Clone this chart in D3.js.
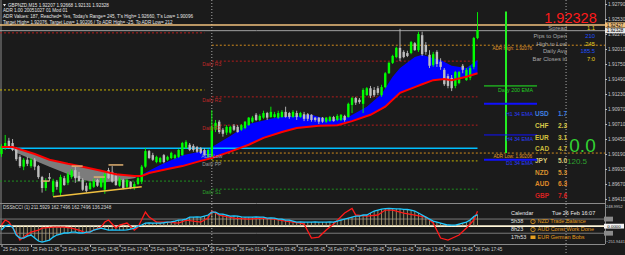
<!DOCTYPE html>
<html>
<head>
<meta charset="utf-8">
<title>GBPNZD,M15</title>
<script src="https://d3js.org/d3.v7.min.js"></script>
<style>
  body { margin: 0; background: #1b1b1b; }
  #chart { display: block; background: #1b1b1b; }
  text { font-family: "Liberation Sans", Arial, sans-serif; }
</style>
</head>
<body>
<svg id="chart" width="625" height="255"></svg>
<script>
// ---- data ----
// one row per M15 bar, 25 Feb 09:45 .. 26 Feb 18:00 : [open, high, low, close]
const candles = [
  [1.9019,1.9036,1.9014,1.9033],[1.9029,1.9052,1.9026,1.9038],[1.9042,1.9047,1.9028,1.9031],[1.9038,1.9045,1.9024,1.9026],
  [1.9028,1.9031,1.9007,1.9010],[1.9014,1.9017,1.8995,1.8998],[1.8997,1.9012,1.8991,1.9009],[1.9009,1.9014,1.8998,1.9002],
  [1.8998,1.9012,1.8995,1.9009],[1.9009,1.9012,1.8991,1.8997],[1.8998,1.9000,1.8976,1.8979],[1.8979,1.8981,1.8952,1.8960],
  [1.8960,1.8977,1.8955,1.8972],[1.8979,1.8986,1.8972,1.8976],[1.8953,1.8976,1.8946,1.8972],[1.8971,1.8974,1.8957,1.8962],
  [1.8952,1.8983,1.8946,1.8979],[1.8977,1.8981,1.8964,1.8965],[1.8969,1.8988,1.8965,1.8984],[1.8979,1.8993,1.8976,1.8990],
  [1.8991,1.8997,1.8969,1.8977],[1.8981,1.8988,1.8971,1.8972],[1.8974,1.8977,1.8955,1.8957],[1.8964,1.8969,1.8952,1.8955],
  [1.8958,1.8972,1.8957,1.8969],[1.8962,1.8976,1.8960,1.8972],[1.8974,1.8976,1.8962,1.8964],[1.8962,1.8981,1.8960,1.8977],
  [1.8957,1.8988,1.8950,1.8984],[1.8991,1.8995,1.8976,1.8977],[1.8988,1.8998,1.8969,1.8971],[1.8981,1.8986,1.8964,1.8965],
  [1.8964,1.8979,1.8962,1.8976],[1.8974,1.8976,1.8958,1.8960],[1.8962,1.8976,1.8960,1.8974],[1.8971,1.8972,1.8958,1.8960],
  [1.8960,1.8971,1.8957,1.8967],[1.8967,1.8981,1.8965,1.8977],[1.8971,1.9000,1.8967,1.8997],[1.8997,1.9029,1.8995,1.9024],
  [1.9024,1.9026,1.9010,1.9012],[1.9017,1.9021,1.9007,1.9009],[1.9005,1.9016,1.9003,1.9014],[1.9005,1.9014,1.9003,1.9012],
  [1.9017,1.9019,1.9003,1.9005],[1.9009,1.9016,1.9007,1.9014],[1.9012,1.9023,1.9010,1.9021],[1.9012,1.9019,1.9010,1.9017],
  [1.9014,1.9028,1.9012,1.9026],[1.9017,1.9040,1.9016,1.9038],[1.9029,1.9043,1.9028,1.9040],[1.9035,1.9038,1.9024,1.9026],
  [1.9033,1.9036,1.9023,1.9026],[1.9031,1.9033,1.9021,1.9023],[1.9029,1.9031,1.9019,1.9021],[1.9026,1.9029,1.9016,1.9017],
  [1.9014,1.9028,1.9012,1.9026],[1.9014,1.9095,1.9009,1.9066],[1.9061,1.9078,1.9057,1.9073],[1.9075,1.9078,1.9054,1.9057],
  [1.9061,1.9064,1.9049,1.9054],[1.9056,1.9069,1.9052,1.9066],[1.9056,1.9068,1.9054,1.9066],[1.9068,1.9071,1.9059,1.9061],
  [1.9066,1.9069,1.9056,1.9057],[1.9061,1.9071,1.9059,1.9069],[1.9064,1.9076,1.9062,1.9075],[1.9069,1.9083,1.9068,1.9082],
  [1.9075,1.9085,1.9073,1.9082],[1.9087,1.9090,1.9076,1.9078],[1.9078,1.9088,1.9076,1.9085],[1.9082,1.9094,1.9080,1.9090],
  [1.9090,1.9092,1.9078,1.9082],[1.9083,1.9101,1.9082,1.9092],[1.9083,1.9092,1.9082,1.9088],[1.9082,1.9094,1.9080,1.9090],
  [1.9083,1.9095,1.9082,1.9092],[1.9092,1.9101,1.9082,1.9083],[1.9090,1.9092,1.9080,1.9083],[1.9083,1.9095,1.9082,1.9092],
  [1.9090,1.9094,1.9078,1.9083],[1.9083,1.9092,1.9082,1.9090],[1.9088,1.9092,1.9076,1.9080],[1.9088,1.9090,1.9076,1.9080],
  [1.9087,1.9088,1.9075,1.9078],[1.9082,1.9083,1.9075,1.9078],[1.9082,1.9083,1.9071,1.9075],[1.9082,1.9083,1.9073,1.9075],
  [1.9075,1.9083,1.9073,1.9082],[1.9076,1.9085,1.9075,1.9083],[1.9083,1.9085,1.9075,1.9076],[1.9078,1.9088,1.9076,1.9085],
  [1.9078,1.9088,1.9076,1.9087],[1.9085,1.9087,1.9075,1.9078],[1.9083,1.9108,1.9082,1.9106],[1.9104,1.9118,1.9090,1.9116],
  [1.9116,1.9118,1.9104,1.9108],[1.9113,1.9116,1.9106,1.9109],[1.9106,1.9133,1.9090,1.9130],[1.9121,1.9135,1.9120,1.9133],
  [1.9133,1.9137,1.9116,1.9120],[1.9130,1.9135,1.9118,1.9121],[1.9133,1.9137,1.9121,1.9125],[1.9121,1.9139,1.9118,1.9135],
  [1.9135,1.9161,1.9133,1.9159],[1.9159,1.9179,1.9158,1.9177],[1.9177,1.9191,1.9175,1.9189],[1.9187,1.9205,1.9185,1.9203],
  [1.9203,1.9236,1.9180,1.9185],[1.9196,1.9199,1.9185,1.9187],[1.9194,1.9198,1.9187,1.9189],[1.9194,1.9215,1.9192,1.9213],
  [1.9211,1.9213,1.9198,1.9199],[1.9199,1.9231,1.9196,1.9227],[1.9225,1.9231,1.9189,1.9192],[1.9208,1.9213,1.9191,1.9196],
  [1.9191,1.9199,1.9168,1.9172],[1.9173,1.9196,1.9170,1.9192],[1.9196,1.9199,1.9170,1.9175],[1.9179,1.9185,1.9165,1.9170],
  [1.9165,1.9168,1.9137,1.9140],[1.9154,1.9158,1.9133,1.9137],[1.9151,1.9156,1.9128,1.9133],[1.9137,1.9163,1.9133,1.9161],
  [1.9142,1.9163,1.9140,1.9161],[1.9172,1.9175,1.9159,1.9165],[1.9147,1.9168,1.9146,1.9165],[1.9151,1.9172,1.9147,1.9168],
  [1.9170,1.9222,1.9166,1.9220],[1.9220,1.9265,1.9218,1.9234]
];

const timeLabels = ["25 Feb 2019","25 Feb 11:45","25 Feb 13:45","25 Feb 15:45","25 Feb 17:45","25 Feb 19:45",
  "25 Feb 21:45","25 Feb 23:45","26 Feb 01:45","26 Feb 03:45","26 Feb 05:45","26 Feb 07:45","26 Feb 09:45",
  "26 Feb 11:45","26 Feb 13:45","26 Feb 15:45","26 Feb 17:45"];
const labelBars = [0,8,16,24,32,40,48,56,64,72,80,88,96,104,112,120,128];
const daySeparators = [57, 153];      // 26 Feb 00:00, 27 Feb 00:00

const priceTicks = [1.92790,1.92530,1.92270,1.92010,1.91750,1.91490,1.91230,1.90970,1.90710,
  1.90450,1.90190,1.89930,1.89670,1.89410];

// moving averages, [bar, price]
const slowMA = [[0,1.9031],[3,1.9031],[9,1.9019],[13,1.9009],[18,1.9002],[22,1.8997],[27,1.8990],[31,1.8984],
  [36,1.8981],[38,1.8981],[40,1.8986],[45,1.8993],[49,1.8998],[54,1.9007],[57,1.9012],[62,1.9023],[67,1.9035],
  [71,1.9047],[76,1.9057],[80,1.9064],[86,1.9068],[91,1.9069],[95,1.9076],[100,1.9087],[104,1.9101],[108,1.9125],
  [112,1.9135],[114,1.9140],[117,1.9147],[120,1.9149],[122,1.9147],[126,1.9153],[129,1.9159]];
const fastMA = [[0,1.9031],[3,1.9029],[4,1.9021],[13,1.8997],[22,1.8974],[27,1.8969],[31,1.8972],[36,1.8977],
  [38,1.8983],[40,1.8990],[43,1.9000],[49,1.9017],[56,1.9026],[57,1.9031],[62,1.9050],[67,1.9071],[75,1.9083],
  [84,1.9087],[89,1.9078],[94,1.9083],[99,1.9101],[103,1.9123],[106,1.9153],[108,1.9168],[112,1.9187],[114,1.9191],
  [117,1.9185],[119,1.9182],[122,1.9172],[126,1.9168],[129,1.9182]];

// levels
const prevDayLevels = [1.9229, 1.9130, 1.8972];
const pivotNames = ["Daily R3","Daily R2","Daily R1","Daily PP","Daily S1"];
const pivotPrices = [1.9180, 1.9118, 1.9069, 1.9007, 1.8958];
const adrHigh = 1.92076, adrLow = 1.90206, todayHigh = 1.92660;
const prevClose = 1.9029, alertPrice = 1.92427, bid = 1.92328;
const tanMarks = [[11,13,1.8972],[19,22,1.8998],[25,28,1.8979],[29,33,1.9000]];
const trendLine = [[14,1.8945],[38,1.8962]];

const emaNames = ["Daily 200 EMA","H1 34 EMA","H4 34 EMA","D1 34 EMA"];
const emaPrices = [1.9137, 1.9106, 1.9052, 1.9009];

const currencies = ["USD","CHF","EUR","CAD","JPY","NZD","AUD","GBP"];
const strength = [1.7, 2.3, 3.1, 4.7, 5.0, 5.3, 6.3, 7.6];

const infoNames = ["Spread","Pips to Open","High to Low","Daily Avg","Bar Closes in"];
const infoValues = ["1.1","210","245","185.5","7:0"];

const calTimes = ["5h38","8h23","17h53"];
const calEvents = ["NZD Trade Balance","AUD Const Work Done","EUR German Bobs"];

const header = ["GBPNZD,M15  1.92207 1.92668 1.92131 1.92328",
  "ADR 1.00 20051027 01 Mod 01",
  "ADR Values: 187, Reached= Yes, Today's Range= 245, T's High= 1.92660, T's Low= 1.90096",
  "Target High= 1.92076, Target Low= 1.90206 / To ADR High= -25, To ADR Low= 212"];

// oscillator (one value per bar) and its signal line [bar, value]
const oscMain = [-55,1,16,-13,-125,-168,-168,-140,-125,-168,-210,-224,-210,-196,-154,-125,-111,-97,-97,-83,
  -83,-97,-97,-83,-83,-55,-41,-27,-41,-55,-52,-55,-57,-55,-52,-41,-27,1,16,44,
  46,44,42,44,48,58,60,72,86,88,100,126,128,130,128,142,157,199,199,171,
  171,157,142,144,142,130,128,126,128,130,128,126,114,116,114,100,100,86,86,72,
  58,60,58,56,58,60,58,56,58,60,58,72,86,100,114,128,142,142,157,157,
  185,213,227,240,246,249,248,245,244,238,235,227,213,185,157,128,100,72,58,44,
  30,16,14,15,30,44,58,86,136,163];
const oscSignal = [[0,16],[1,86],[2,58],[4,-97],[5,-196],[6,-154],[8,-83],[10,-55],[11,-27],[14,-13],[17,-13],
  [19,-27],[21,-55],[23,-97],[25,-55],[27,-13],[28,58],[29,86],[31,-27],[32,16],[34,44],[36,-55],[37,-13],
  [39,199],[40,128],[42,58],[45,58],[48,44],[50,86],[54,58],[56,114],[57,213],[59,157],[63,114],[67,100],
  [70,114],[74,100],[77,72],[81,44],[82,30],[84,-168],[86,-154],[88,-55],[90,30],[93,185],[95,249],[96,157],
  [99,142],[102,157],[104,227],[106,227],[109,185],[112,157],[115,128],[117,44],[119,-168],[121,-196],
  [124,-125],[126,-27],[128,86],[129,211]];
const oscLevels = [100, 0, -100];
const oscTicks = [248.9952, -251.9441];

// ---- layout ----
const plotRight = 605, mainBottom = 203, subTop = 204, subBottom = 244;
const svg = d3.select("#chart");

const x = d3.scaleLinear([0, candles.length - 1], [1.5, 477.5]);
const y = d3.scaleLinear([1.8934, 1.9286], [mainBottom, 0]);
const oy = d3.scaleLinear([-251.9441, 248.9952], [subBottom, 208.5]);

function hline(g, price, x1, x2, color, dash, w) {
  g.append("line").attr("x1", x1).attr("x2", x2).attr("y1", y(price)).attr("y2", y(price))
    .attr("stroke", color).attr("stroke-width", w || 1).attr("stroke-dasharray", dash || null);
}
function label(g, txt, px, py, size, color, anchor, weight) {
  return g.append("text").attr("x", px).attr("y", py).attr("dy", "0.35em")
    .attr("font-size", size).attr("fill", color).attr("text-anchor", anchor || "start")
    .attr("font-weight", weight || "normal").text(txt);
}

// frames
const frame = svg.append("g").attr("stroke", "#8a8a8a");
frame.append("line").attr("x1", 1).attr("x2", 1).attr("y1", 0).attr("y2", subBottom);
frame.append("line").attr("x1", plotRight + 0.5).attr("x2", plotRight + 0.5).attr("y1", 0).attr("y2", subBottom);
frame.append("line").attr("x1", 0).attr("x2", plotRight).attr("y1", mainBottom + 0.5).attr("y2", mainBottom + 0.5);
frame.append("line").attr("x1", 0).attr("x2", plotRight).attr("y1", subBottom + 0.5).attr("y2", subBottom + 0.5);

// day separators
svg.selectAll("line.sep").data(daySeparators).join("line").attr("class", "sep")
  .attr("x1", d => x(d)).attr("x2", d => x(d)).attr("y1", 0).attr("y2", 253)
  .attr("stroke", "#a8a8a8").attr("stroke-dasharray", "1,2");

// pivot levels
const lv = svg.append("g");
const prevColors = ["#b41c1c", "#c8b400", "#1f8f1f"];
prevDayLevels.forEach((p, i) => hline(lv, p, x(0) - 1.5, x(55), prevColors[i], "2,2"));
const pivColors = ["#b41c1c", "#b41c1c", "#b41c1c", "#c8b400", "#1f8f1f"];
pivotPrices.forEach((p, i) => hline(lv, p, x(57), x(129), pivColors[i], "2,2"));
hline(lv, adrHigh, x(57), plotRight, "#d08a1c", "2,2");
hline(lv, adrLow, x(57), plotRight, "#d08a1c", "2,2");

// MA band: grey while fast is under slow, blue once it crosses above
const maLine = d3.line().x(d => x(d[0])).y(d => y(d[1]));
const inRange = (lo, hi) => d => d[0] >= lo && d[0] <= hi;
function band(lo, hi) {
  return maLine(fastMA.filter(inRange(lo, hi)).concat(slowMA.filter(inRange(lo, hi)).reverse())) + "Z";
}
svg.append("path").attr("d", band(3, 38)).attr("fill", "#7c7c7c");
svg.append("path").attr("d", band(38, 129)).attr("fill", "#0000ff");

hline(svg, prevClose, x(0) - 1.5, x(129), "#00bfff", null, 1.5);
hline(svg, alertPrice, 0, plotRight, "#f2c27e", null, 1.5);
hline(svg, bid, 0, plotRight, "#a0a0a0", null, 1);

// candles
const bull = "#00ff00", bear = "#bdbdbd";
const bars = svg.append("g").selectAll("g").data(candles).join("g");
bars.append("line")
  .attr("x1", (d, i) => x(i)).attr("x2", (d, i) => x(i))
  .attr("y1", d => y(d[1])).attr("y2", d => y(d[2]))
  .attr("stroke", d => d[3] >= d[0] ? bull : bear).attr("stroke-width", 0.9);
bars.append("rect")
  .attr("x", (d, i) => x(i) - 1.2).attr("width", 2.4)
  .attr("y", d => y(Math.max(d[0], d[3])))
  .attr("height", d => Math.max(1, Math.abs(y(d[0]) - y(d[3]))))
  .attr("fill", d => d[3] >= d[0] ? bull : bear);

svg.append("path").attr("d", maLine(slowMA)).attr("fill", "none").attr("stroke", "#ff0000").attr("stroke-width", 2);

// small marks under the first session
svg.append("g").selectAll("line").data(tanMarks).join("line")
  .attr("x1", d => x(d[0])).attr("x2", d => x(d[1])).attr("y1", d => y(d[2])).attr("y2", d => y(d[2]))
  .attr("stroke", "#e0b070").attr("stroke-width", 1.5);
svg.append("path").attr("d", maLine(trendLine)).attr("stroke", "#f0c040").attr("stroke-width", 1.5).attr("fill", "none");

// level labels
const tl = svg.append("g");
pivotNames.forEach((n, i) => label(tl, n, x(57), y(pivotPrices[i]) + 3.5, 5,
  i < 3 ? "#c02828" : (i == 3 ? "#9a9a9a" : "#2aa02a"), "middle"));
label(tl, "ADR Low", x(57), y(adrLow) + 3.5, 5, "#8ca0c8", "middle");
label(tl, "ADR High: " + adrHigh.toFixed(5), 532, y(adrHigh) + 3, 4.6, "#e09a2a", "end");
label(tl, "ADR Low: " + adrLow.toFixed(5), 532, y(adrLow) + 3, 4.6, "#e09a2a", "end");

// right hand EMA markers
const em = svg.append("g");
em.append("line").attr("x1", 506).attr("x2", 506).attr("y1", y(todayHigh)).attr("y2", y(adrLow))
  .attr("stroke", "#22ee22").attr("stroke-width", 2);
const emaColors = ["#22ee22", "#1010ff", "#1010ff", "#1010ff"];
const emaWidths = [1, 2, 1, 2];
const emaLabelOffset = [4, 10, 4, 3];
emaPrices.forEach((p, i) => {
  hline(em, p, 484, 537, emaColors[i], null, emaWidths[i]);
  label(em, emaNames[i], 533, y(p) + emaLabelOffset[i], 5.3, i == 0 ? "#22cc22" : "#2a3cff", "end");
});

// currency strength
const cs = svg.append("g");
const csColors = ["#3f7fe0", "#d8c848", "#d4c23e", "#c8b83a", "#d8c878", "#d8922e", "#e08a28", "#d82020"];
currencies.forEach((c, i) => {
  label(cs, c, 535, 114 + i * 11.7, 6.5, csColors[i], "start", "bold");
  label(cs, strength[i].toFixed(1), 558, 114 + i * 11.7, 6.5, csColors[i], "start", "bold");
});
label(cs, "0.0", 582.5, 145, 19, "#32d232", "middle");
label(cs, "120.5", 567, 161, 8, "#2ea02e", "start");

// info box, top right
const ib = svg.append("g");
label(ib, bid.toFixed(5), 570.5, 17.5, 14.5, "#ff1a1a", "middle");
const infoColors = ["#e8d020", "#2050ff", "#e8d020", "#2050ff", "#e8d020"];
infoNames.forEach((n, i) => {
  label(ib, n, 567, 28 + i * 7.75, 5.8, "#a8a8a8", "end");
  label(ib, infoValues[i], 595, 28 + i * 7.75, 5.8, infoColors[i], "end");
});

// header text
const hd = svg.append("g");
hd.append("path").attr("d", "M3,4 L6,4 L4.5,6.5 Z").attr("fill", "#e6e6e6");
header.forEach((h, i) => label(hd, h, i == 0 ? 8 : 3, [5, 10.5, 16, 22][i], 4.6, "#e6e6e6"));

// price axis
const yAxis = d3.axisRight(y).tickValues(priceTicks).tickFormat(d3.format(".5f")).tickSize(2).tickPadding(1);
svg.append("g").attr("transform", `translate(${plotRight},0)`).call(yAxis)
  .call(g => g.select(".domain").remove())
  .call(g => g.selectAll("line").attr("stroke", "#c0c0c0"))
  .call(g => g.selectAll("text").attr("font-size", 4.8).attr("fill", "#c8c8c8")
    .attr("font-family", "Liberation Sans, Arial, sans-serif"));

function priceBox(price, fill, txt) {
  svg.append("rect").attr("x", plotRight).attr("y", y(price) - 2.6).attr("width", 20).attr("height", 5.2).attr("fill", fill);
  label(svg, txt, plotRight + 10, y(price), 4.6, "#000", "middle");
}
priceBox(alertPrice, "#f2c27e", alertPrice.toFixed(5));
priceBox(bid, "#e8e8e8", bid.toFixed(5));

// ---- oscillator window ----
const os = svg.append("g");
os.selectAll("line.lvl").data(oscLevels).join("line").attr("class", "lvl")
  .attr("x1", 0).attr("x2", plotRight).attr("y1", d => oy(d)).attr("y2", d => oy(d))
  .attr("stroke", d => d == 0 ? "#fff6d8" : "#7a7a7a").attr("stroke-width", d => d == 0 ? 1.6 : 1);
os.selectAll("line.hist").data(oscMain).join("line").attr("class", "hist")
  .attr("x1", (d, i) => x(i)).attr("x2", (d, i) => x(i))
  .attr("y1", oy(0)).attr("y2", d => oy(d))
  .attr("stroke", "#b8a878").attr("stroke-width", 0.8);
os.append("path").attr("d", d3.line().x(d => x(d[0])).y(d => oy(d[1]))(oscSignal))
  .attr("fill", "none").attr("stroke", "#ff1a1a").attr("stroke-width", 1.3);
os.append("path").attr("d", d3.line().x((d, i) => x(i)).y(d => oy(d))(oscMain))
  .attr("fill", "none").attr("stroke", "#1ec8ff").attr("stroke-width", 1.3);
label(os, "DSSbCCI (1) 211.5929 162.7496 162.7496 136.2348", 3, 207, 4.6, "#d8d8d8");

const oAxis = d3.axisRight(oy).tickValues(oscTicks).tickFormat(d3.format(".4f")).tickSize(0).tickPadding(1);
svg.append("g").attr("transform", `translate(${plotRight},0)`).call(oAxis)
  .call(g => g.select(".domain").remove())
  .call(g => g.selectAll("text").attr("font-size", 4.0).attr("fill", "#c8c8c8")
    .attr("font-family", "Liberation Sans, Arial, sans-serif")
    .attr("dy", d => d > 0 ? "-0.2em" : "-0.4em"));
oscLevels.forEach(v => {
  svg.append("rect").attr("x", plotRight - 1).attr("y", oy(v) - 2.4).attr("height", 4.8)
    .attr("width", v == 0 ? 20 : 9).attr("fill", v == 0 ? "#f4f4f4" : "#8a8a8a");
  if (v == 0) label(svg, "0.0000", plotRight + 9, oy(v), 4.4, "#000", "middle");
});

// calendar panel
const cal = svg.append("g");
label(cal, "Calendar", 511, 213, 5.5, "#e8e8e8");
label(cal, "Tue 26 Feb 16:07", 552, 213, 5.5, "#e8e8e8");
calTimes.forEach((t, i) => {
  const ry = 221.5 + i * 8;
  label(cal, t, 511, ry, 5.5, "#e0e0e0");
  if (i < 2) {
    cal.append("circle").attr("cx", 533).attr("cy", ry).attr("r", 2.2).attr("fill", "none").attr("stroke", "#e8a020").attr("stroke-width", 0.8);
    label(cal, "!", 533, ry, 4, "#e8a020", "middle");
  } else {
    cal.append("rect").attr("x", 530.5).attr("y", ry - 2).attr("width", 5).attr("height", 3.5).attr("fill", "#e8a020");
  }
  label(cal, calEvents[i], 537.5, ry, 5.5, "#e09a1c");
});

// time axis
const xAxis = d3.axisBottom(x).tickValues(labelBars).tickFormat((d, i) => timeLabels[i]).tickSize(2).tickPadding(1);
svg.append("g").attr("transform", `translate(0,${subBottom + 1})`).call(xAxis)
  .call(g => g.select(".domain").remove())
  .call(g => g.selectAll("line").attr("stroke", "#c0c0c0"))
  .call(g => g.selectAll("text").attr("text-anchor", "start").attr("x", 1)
    .attr("font-size", 4.6).attr("fill", "#c8c8c8").attr("font-family", "Liberation Sans, Arial, sans-serif"));
</script>
</body>
</html>
